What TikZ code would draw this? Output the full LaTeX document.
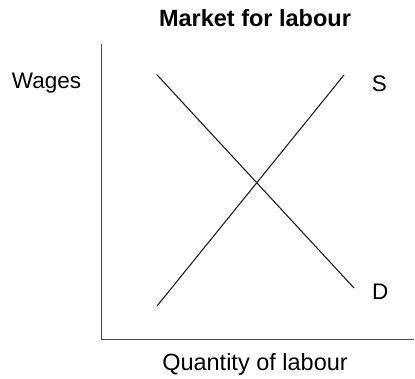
\documentclass[tikz,border=0pt]{standalone}
\usepackage{fontspec}
\setmainfont{Liberation Sans}
\usetikzlibrary{positioning}
\definecolor{mAxis}{HTML}{4A4A4A}
\definecolor{mCurve}{HTML}{1E1E1E}

\begin{document}
\begin{tikzpicture}[x=1pt, y=-1pt,
      lbl/.style={inner sep=0pt, anchor=base west, font=\fontsize{22.5}{27}\selectfont},
      axis/.style={draw=mAxis, line width=1.6pt},
      curve/.style={draw=mCurve, line width=1.1pt}]
    \useasboundingbox (0,0) rectangle (415,378);
    % title
    \node[inner sep=0pt, anchor=base, font=\fontsize{23.5}{28}\selectfont\bfseries] (title) at (255,26.7) {Market for labour};
    % axes
    \coordinate (origin) at (101.5,339.5);
    \coordinate (ytop) at (101.5,44);
    \coordinate (xend) at (414,339.5);
    \draw[axis] (ytop) -- (origin) -- (xend);
    \node[lbl] (wages) at (11.7,88.3) {Wages};
    \node[lbl, anchor=base, font=\fontsize{23.5}{28}\selectfont] (qty) at (255,370) {Quantity of labour};
    % demand
    \coordinate (d1) at (156.7,74.5);
    \coordinate (d2) at (354,288);
    \draw[curve] (d1) -- (d2);
    \node[lbl] (dlab) at (372,299) {D};
    % supply
    \coordinate (s1) at (157,306);
    \coordinate (s2) at (344,75);
    \draw[curve] (s1) -- (s2);
    \node[lbl] (slab) at (371.7,91.7) {S};
  \end{tikzpicture}
\end{document}
